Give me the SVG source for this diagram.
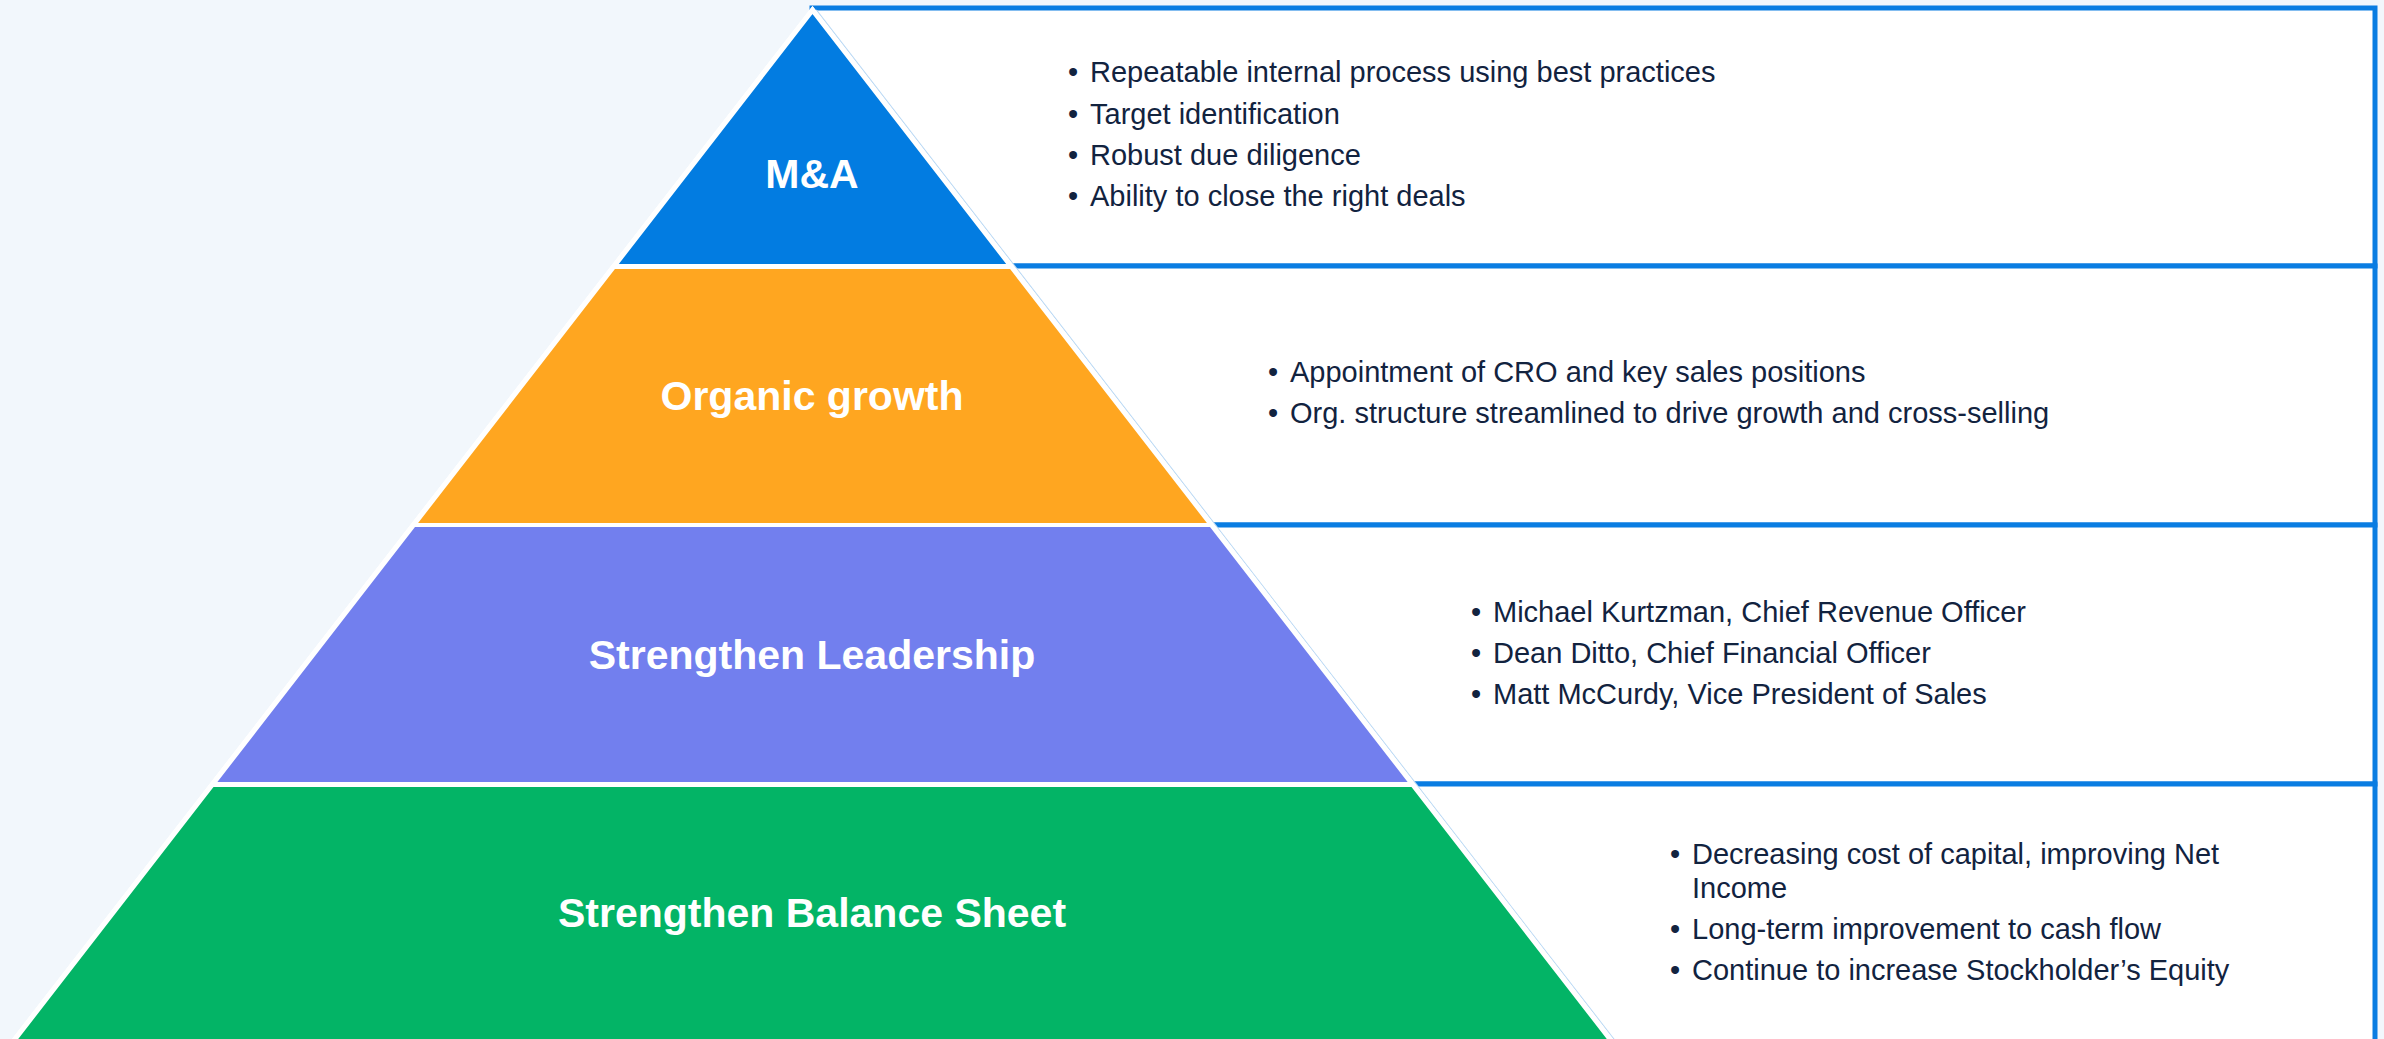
<svg xmlns="http://www.w3.org/2000/svg" width="2384" height="1039" viewBox="0 0 2384 1039">
  <style>
    .box { fill: #ffffff; stroke: #0A7DE2; stroke-width: 5; }
    .body { font-family: "Liberation Sans", Arial, sans-serif; font-size: 29px; fill: #12233F; }
    .bul { font-family: "Liberation Sans", Arial, sans-serif; font-size: 29px; fill: #12233F; text-anchor: middle; }
    .label { font-family: "Liberation Sans", Arial, sans-serif; font-size: 41px; font-weight: bold; fill: #ffffff; text-anchor: middle; }
  </style>

  <!-- page background -->
  <rect x="0" y="0" width="2384" height="1039" fill="#F2F7FC"/>

  <!-- description panels to the right of the pyramid -->
  <g id="panels">
    <rect class="box" x="812" y="8" width="1563" height="258"/>
    <rect class="box" x="812" y="266" width="1563" height="259"/>
    <rect class="box" x="812" y="525" width="1563" height="259"/>
    <rect class="box" x="812" y="784" width="1563" height="300"/>
  </g>

  <!-- pyramid base: white body, thin outer edge on the right -->
  <g id="pyramid-frame">
    <line x1="816.3" y1="10" x2="1618.4" y2="1045" stroke="#BCDAF5" stroke-width="1.3"/>
    <polygon points="812.5,10 1614.6,1045 10.4,1045" fill="#ffffff" stroke="#ffffff" stroke-width="5" stroke-linejoin="miter"/>
  </g>

  <!-- pyramid tiers -->
  <g id="tier-ma">
    <polygon points="812.5,10 1009.4,264 615.6,264" fill="#027CE1"/>
    <text class="label" x="812" y="188">M&amp;A</text>
  </g>
  <g id="tier-organic">
    <polygon points="611.8,269 1013.2,269 1210.1,523 414.9,523" fill="#FFA620"/>
    <text class="label" x="812" y="410">Organic growth</text>
  </g>
  <g id="tier-leadership">
    <polygon points="411.8,527 1213.2,527 1410.8,782 214.2,782" fill="#727FEE"/>
    <text class="label" x="812" y="669">Strengthen Leadership</text>
  </g>
  <g id="tier-balance">
    <polygon points="210.3,787 1414.7,787 1614.6,1045 10.4,1045" fill="#03B466"/>
    <text class="label" x="812" y="927">Strengthen Balance Sheet</text>
  </g>

  <!-- white outline around the whole pyramid -->
  <polygon points="812.5,10 1614.6,1045 10.4,1045" fill="none" stroke="#ffffff" stroke-width="5" stroke-linejoin="miter"/>

  <!-- panel texts -->
  <g id="text-ma">
    <text class="bul" x="1073" y="82">•</text><text class="body" x="1090" y="82">Repeatable internal process using best practices</text>
    <text class="bul" x="1073" y="124">•</text><text class="body" x="1090" y="124">Target identification</text>
    <text class="bul" x="1073" y="165">•</text><text class="body" x="1090" y="165">Robust due diligence</text>
    <text class="bul" x="1073" y="206">•</text><text class="body" x="1090" y="206">Ability to close the right deals</text>
  </g>
  <g id="text-organic">
    <text class="bul" x="1273" y="382">•</text><text class="body" x="1290" y="382">Appointment of CRO and key sales positions</text>
    <text class="bul" x="1273" y="423">•</text><text class="body" x="1290" y="423">Org. structure streamlined to drive growth and cross-selling</text>
  </g>
  <g id="text-leadership">
    <text class="bul" x="1476" y="622">•</text><text class="body" x="1493" y="622">Michael Kurtzman, Chief Revenue Officer</text>
    <text class="bul" x="1476" y="663">•</text><text class="body" x="1493" y="663">Dean Ditto, Chief Financial Officer</text>
    <text class="bul" x="1476" y="704">•</text><text class="body" x="1493" y="704">Matt McCurdy, Vice President of Sales</text>
  </g>
  <g id="text-balance">
    <text class="bul" x="1675" y="864">•</text><text class="body" x="1692" y="864">Decreasing cost of capital, improving Net</text>
    <text class="body" x="1692" y="898">Income</text>
    <text class="bul" x="1675" y="939">•</text><text class="body" x="1692" y="939">Long-term improvement to cash flow</text>
    <text class="bul" x="1675" y="980">•</text><text class="body" x="1692" y="980">Continue to increase Stockholder’s Equity</text>
  </g>
</svg>
